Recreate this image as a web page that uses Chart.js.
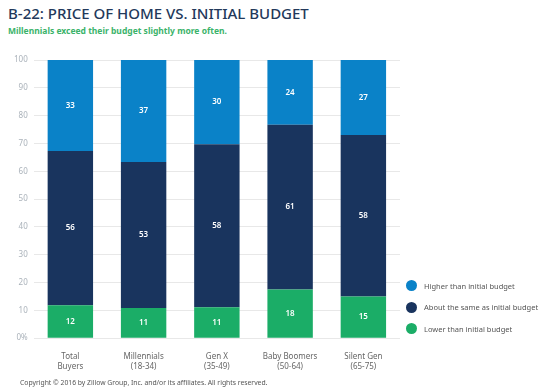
<!DOCTYPE html>
<html lang="en">
<head>
    <meta charset="UTF-8">
    <title>B-22: Price of Home vs. Initial Budget</title>
    <script src="https://cdn.jsdelivr.net/npm/chart.js"></script>
    <style>
        html, body { margin: 0; padding: 0; background: #fff; }
        body { width: 550px; height: 391px; position: relative; overflow: hidden; font-family: 'Noto Sans', sans-serif; }
        #title { position: absolute; left: 8px; top: 3px; font-size: 15px; font-weight: 500; color: #23395b; white-space: nowrap; }
        #subtitle { position: absolute; left: 8px; top: 25px; font-size: 8.5px; font-weight: 700; color: #3bb36a; white-space: nowrap; }
        #copyright { position: absolute; left: 20px; top: 378px; font-size: 6.8px; color: #555; white-space: nowrap; }
        #chart-box { position: absolute; left: 0; top: 0; width: 550px; height: 391px; }
        #legend { position: absolute; left: 406px; top: 275px; font-size: 7.5px; color: #555; }
        .legend-item { display: flex; align-items: center; height: 21.5px; }
        .legend-dot { width: 11px; height: 11px; border-radius: 50%; margin-right: 7px; }
    </style>
</head>
<body>
    <div id="title">B-22: PRICE OF HOME VS. INITIAL BUDGET</div>
    <div id="subtitle">Millennials exceed their budget slightly more often.</div>
    <div id="chart-box"><canvas id="chart"></canvas></div>
    <div id="legend"></div>
    <div id="copyright">Copyright © 2016 by Zillow Group, Inc. and/or its affiliates. All rights reserved.</div>

    <script>
        // chart data (percent of buyers)
        const categories = [['Total', 'Buyers'], ['Millennials', '(18-34)'], ['Gen X', '(35-49)'], ['Baby Boomers', '(50-64)'], ['Silent Gen', '(65-75)']];
        const lowerThan = [12, 11, 11, 18, 15];
        const aboutSame = [56, 53, 58, 61, 58];
        const higherThan = [33, 37, 30, 24, 27];
        const yTicks = [0, 10, 20, 30, 40, 50, 60, 70, 80, 90, 100];

        const seriesNames = ['Higher than initial budget', 'About the same as initial budget', 'Lower than initial budget'];
        const colors = { high: '#0a82c8', same: '#19345e', low: '#1bad67' };

        // rounded values don't always add to 100, the bars are scaled to fill the column
        const totals = lowerThan.map((v, i) => v + aboutSame[i] + higherThan[i]);
        const share = arr => arr.map((v, i) => v / totals[i] * 100);

        // white numbers in the middle of each segment
        const segmentLabels = {
            id: 'segmentLabels',
            afterDatasetsDraw(chart) {
                const ctx = chart.ctx;
                ctx.save();
                ctx.fillStyle = '#fff';
                ctx.font = '600 8px "Noto Sans"';
                ctx.textAlign = 'center';
                ctx.textBaseline = 'middle';
                chart.data.datasets.forEach((ds, i) => {
                    chart.getDatasetMeta(i).data.forEach((bar, j) => {
                        ctx.fillText(ds.raw[j], bar.x, (bar.y + bar.base) / 2);
                    });
                });
                ctx.restore();
            }
        };

        new Chart(document.getElementById('chart'), {
            type: 'bar',
            data: {
                labels: categories,
                datasets: [
                    { label: seriesNames[2], data: share(lowerThan), raw: lowerThan, backgroundColor: colors.low },
                    { label: seriesNames[1], data: share(aboutSame), raw: aboutSame, backgroundColor: colors.same },
                    { label: seriesNames[0], data: share(higherThan), raw: higherThan, backgroundColor: colors.high }
                ]
            },
            options: {
                responsive: true,
                maintainAspectRatio: false,
                animation: false,
                layout: { padding: { top: 60, right: 150, bottom: 6, left: 8 } },
                datasets: { bar: { barPercentage: 0.62, categoryPercentage: 1 } },
                scales: {
                    x: {
                        stacked: true,
                        grid: { display: false, drawTicks: false },
                        border: { display: false },
                        ticks: { color: '#666', font: { size: 8, family: 'Noto Sans', lineHeight: 1.3 }, padding: 13 }
                    },
                    y: {
                        stacked: true,
                        min: 0,
                        max: 100,
                        afterBuildTicks: axis => { axis.ticks = yTicks.map(v => ({ value: v })); },
                        grid: { color: '#e8e8e8', drawTicks: false },
                        border: { display: false },
                        ticks: {
                            color: '#aab2ba',
                            font: { size: 8, family: 'Noto Sans' },
                            padding: 6,
                            callback: v => v === 0 ? '0%' : v
                        }
                    }
                },
                plugins: {
                    legend: { display: false },
                    tooltip: { enabled: false }
                }
            },
            plugins: [segmentLabels]
        });

        // legend on the right
        const legend = document.getElementById('legend');
        [[seriesNames[0], colors.high], [seriesNames[1], colors.same], [seriesNames[2], colors.low]].forEach(([name, color]) => {
            const item = document.createElement('div');
            item.className = 'legend-item';
            item.innerHTML = `<span class="legend-dot" style="background:${color}"></span><span>${name}</span>`;
            legend.appendChild(item);
        });
    </script>
</body>
</html>
